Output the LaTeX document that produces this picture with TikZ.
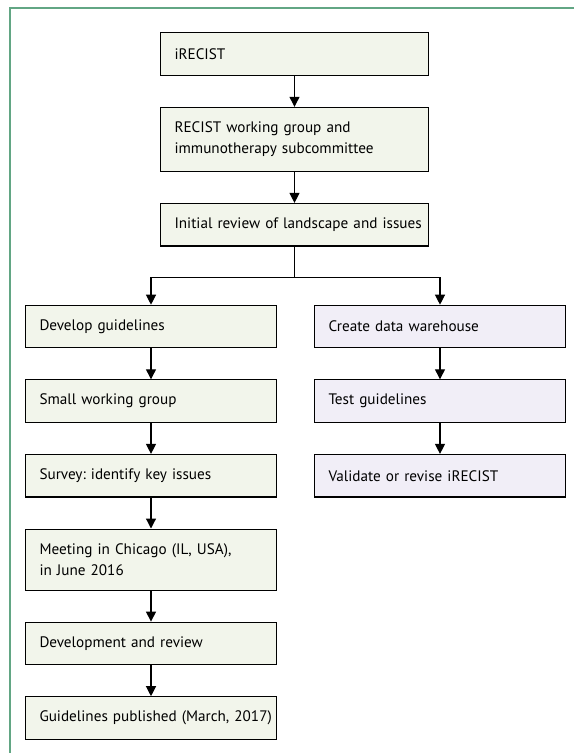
\documentclass[tikz,border=0pt]{standalone}
\usepackage{fontspec}
\setmainfont{PT Sans}
\frenchspacing
\usetikzlibrary{positioning,arrows.meta}
\definecolor{framegreen}{RGB}{98,166,132}
\definecolor{boxgreen}{RGB}{242,245,235}
\definecolor{boxlilac}{RGB}{241,238,247}
\begin{document}
\begin{tikzpicture}[x=1pt,y=-1pt]
\tikzstyle{box} = [draw=black,line width=1.1pt,inner xsep=0pt,minimum height=42.5pt,align=left,
  font=\fontsize{15.2}{21}\selectfont,execute at begin node={\leftskip=14pt}]
\tikzstyle{gbox} = [box,fill=boxgreen]
\tikzstyle{pbox} = [box,fill=boxlilac]
\tikzstyle{wide} = [text width=268pt]
\tikzstyle{col} = [text width=251pt]
\tikzstyle{arr} = [line width=1.2pt,-{Triangle[length=10pt,width=10pt]}]
\useasboundingbox (0,0) rectangle (574,753);
\draw[framegreen,line width=1.2pt] (574,8) -- (10,8) -- (10,753);
\node[gbox,wide] (irecist) at (294.5,54) {iRECIST};
\node[gbox,wide,minimum height=64pt,below=31pt of irecist] (wg) {RECIST working group and\\immunotherapy subcommittee};
\node[gbox,wide,below=31pt of wg] (review) {Initial review of landscape and issues};
\node[gbox,col] (develop) at (151,326.5) {Develop guidelines};
\node[gbox,col,below=31pt of develop] (small) {Small working group};
\node[gbox,col,below=31pt of small] (survey) {Survey: identify key issues};
\node[gbox,col,minimum height=61pt,below=31pt of survey] (chicago) {Meeting in Chicago (IL, USA),\\in June 2016};
\node[gbox,col,below=31pt of chicago] (devrev) {Development and review};
\node[gbox,col,below=31pt of devrev] (published) {Guidelines published (March, 2017)};
\node[pbox,col] (warehouse) at (440,326.5) {Create data warehouse};
\node[pbox,col,below=31pt of warehouse] (test) {Test guidelines};
\node[pbox,col,below=31pt of test] (validate) {Validate or revise iRECIST};
\draw[arr] (irecist) -- (wg);
\draw[arr] (wg) -- (review);
\draw[arr] (review.south) -- ++(0,31) -| (develop);
\draw[arr] (review.south) -- ++(0,31) -| (warehouse);
\draw[arr] (develop) -- (small);
\draw[arr] (small) -- (survey);
\draw[arr] (survey) -- (chicago);
\draw[arr] (chicago) -- (devrev);
\draw[arr] (devrev) -- (published);
\draw[arr] (warehouse) -- (test);
\draw[arr] (test) -- (validate);
\end{tikzpicture}
\end{document}
